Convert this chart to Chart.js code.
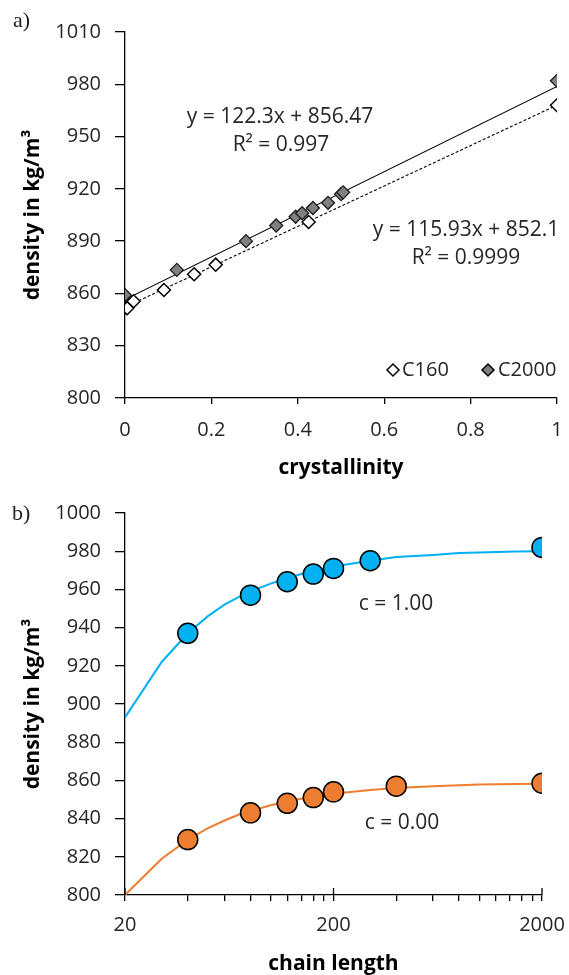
<!DOCTYPE html>
<html>
<head>
<meta charset="utf-8">
<script src="https://cdn.jsdelivr.net/npm/chart.js@4/dist/chart.umd.min.js"></script>
<style>
  body { margin: 0; background: #fff; width: 569px; height: 975px; overflow: hidden; position: relative; }
  #topWrap { position: absolute; left: 0; top: 0; width: 569px; height: 490px; }
  #botWrap { position: absolute; left: 0; top: 490px; width: 569px; height: 485px; }
  .tag { position: absolute; font-family: "Liberation Serif", "DejaVu Serif", serif; font-size: 22px; color: #222; }
</style>
</head>
<body>
<div id="topWrap"><canvas id="crystChart"></canvas></div>
<div id="botWrap"><canvas id="chainChart"></canvas></div>
<div class="tag" style="left:13px;top:7px;">a)</div>
<div class="tag" style="left:12px;top:500px;">b)</div>

<script>
// ---- data: panel a) density vs crystallinity ----
var crystC160 = [0, 0.005, 0.02, 0.09, 0.16, 0.21, 0.425, 1];
var densC160 = [852, 851.5, 855.5, 862, 871, 876.5, 901, 968];
var crystC2000 = [0, 0.12, 0.28, 0.35, 0.395, 0.41, 0.435, 0.47, 0.5, 0.505, 1];
var densC2000 = [859, 873.5, 890, 899, 904, 906, 909, 912, 917, 918, 982];
var trendX = [0, 1];
var trendC160 = [852.1, 968.03];
var trendC2000 = [856.47, 978.77];

// ---- data: panel b) density vs chain length ----
var chainCryst = [40, 80, 120, 160, 200, 300, 2000];
var densCryst = [937, 957, 964, 968, 971, 975, 982];
var chainAmorph = [40, 80, 120, 160, 200, 400, 2000];
var densAmorph = [829, 843, 848, 851, 854, 857, 858.5];
var fitChain = [20, 30, 40, 50, 60, 70, 80, 100, 120, 150, 200, 300, 400, 600, 800, 1000, 1500, 2000];
var fitCryst = [893, 922, 937, 946, 952, 956, 959, 963, 966, 969, 972, 975, 977, 978, 979, 979.3, 979.8, 980];
var fitAmorph = [800, 819, 829, 835, 839, 842, 844, 847, 849, 851, 853, 855, 856, 857, 857.5, 857.8, 858.1, 858.3];
var chainTicks = [20, 40, 60, 80, 100, 120, 140, 160, 180, 200, 400, 600, 800, 1000, 1200, 1400, 1600, 1800, 2000];
var chainLabels = [20, 200, 2000];

var FONT = '"Open Sans", "Liberation Sans", sans-serif';
var TICK_COLOR = '#262626';

function pts(xs, ys) {
  return xs.map(function(x, i) { return { x: x, y: ys[i] }; });
}

// common axis styling
function axisStyle(tickLen, extra) {
  var base = {
    border: { display: true, color: '#000', width: 1.3 },
    grid: { drawOnChartArea: false, color: '#000', lineWidth: 1.3, tickLength: tickLen }
  };
  for (var k in extra) base[k] = extra[k];
  return base;
}

// pad: space between title and the outer edge of the scale box
function titleStyle(text, pad) {
  return { display: true, text: text, color: '#000', font: { family: FONT, size: 21, weight: 'bold' },
    padding: { top: pad, bottom: pad } };
}

// keep plot edges fixed regardless of label overflow
function fixX(h) {
  return function(s) { s.height = h; s.paddingRight = 0; s.paddingLeft = 0; };
}
function fixY(s) { s.width = 125; s.paddingTop = 0; s.paddingBottom = 0; }

function diamond(ctx, x, y, r, fill) {
  ctx.beginPath();
  ctx.moveTo(x, y - r); ctx.lineTo(x + r, y); ctx.lineTo(x, y + r); ctx.lineTo(x - r, y); ctx.closePath();
  ctx.fillStyle = fill; ctx.fill();
  ctx.lineWidth = 1.5; ctx.strokeStyle = '#000'; ctx.stroke();
}

// text labels for panel a)
var crystNotes = {
  id: 'crystNotes',
  afterDraw: function(chart) {
    var ctx = chart.ctx;
    ctx.save();
    diamond(ctx, 393, 370, 6, '#fff');
    diamond(ctx, 488, 370, 6, '#808080');
    ctx.font = '21px ' + FONT;
    ctx.fillStyle = '#262626';
    ctx.textAlign = 'center';
    ctx.textBaseline = 'middle';
    ctx.fillText('y = 122.3x + 856.47', 280, 117);
    ctx.fillText('R² = 0.997', 281, 145);
    ctx.fillText('y = 115.93x + 852.1', 466, 230);
    ctx.fillText('R² = 0.9999', 466, 258);
    ctx.font = '20px ' + FONT;
    ctx.textAlign = 'left';
    ctx.fillText('C160', 402, 370);
    ctx.fillText('C2000', 498, 370);
    ctx.restore();
  }
};

// text labels and major tick marks for panel b)
var chainNotes = {
  id: 'chainNotes',
  afterDraw: function(chart) {
    var ctx = chart.ctx;
    var xs = chart.scales.x;
    ctx.save();
    ctx.strokeStyle = '#000';
    ctx.lineWidth = 1.3;
    chainLabels.forEach(function(v) {
      var px = xs.getPixelForValue(v);
      ctx.beginPath();
      ctx.moveTo(px, xs.top - 7);
      ctx.lineTo(px, xs.top);
      ctx.stroke();
    });
    ctx.font = '21px ' + FONT;
    ctx.fillStyle = '#262626';
    ctx.textAlign = 'center';
    ctx.textBaseline = 'middle';
    ctx.fillText('c = 1.00', 396, 114);
    ctx.fillText('c = 0.00', 402, 333);
    ctx.restore();
  }
};

document.addEventListener('DOMContentLoaded', function() {
  Chart.defaults.font.family = FONT;
  Chart.defaults.animation = false;

  var tickFont = { family: FONT, size: 20 };

  new Chart(document.getElementById('crystChart'), {
    type: 'scatter',
    data: {
      datasets: [
        { label: 'C160', data: pts(crystC160, densC160), pointStyle: 'rectRot', pointRadius: 6.5,
          backgroundColor: '#fff', borderColor: '#000', borderWidth: 1.5, order: 0 },
        { label: 'C2000', data: pts(crystC2000, densC2000), pointStyle: 'rectRot', pointRadius: 6.5,
          backgroundColor: '#808080', borderColor: '#1a1a1a', borderWidth: 1.3, order: 1 },
        { label: 'trend C160', data: pts(trendX, trendC160), showLine: true, pointRadius: 0,
          borderColor: '#000', borderWidth: 1.1, borderDash: [3, 2], order: 2 },
        { label: 'trend C2000', data: pts(trendX, trendC2000), showLine: true, pointRadius: 0,
          borderColor: '#000', borderWidth: 1.1, order: 3 }
      ]
    },
    options: {
      responsive: true, maintainAspectRatio: false,
      layout: { padding: { top: 32, right: 12, left: 0, bottom: 0 } },
      plugins: { legend: { display: false }, tooltip: { enabled: false } },
      scales: {
        x: axisStyle(6, { min: 0, max: 1, title: titleStyle('crystallinity', 9),
          afterFit: fixX(92),
          ticks: { stepSize: 0.2, font: tickFont, color: TICK_COLOR, padding: 14, maxRotation: 0,
            callback: function(v) { return String(Math.round(v * 10) / 10); } } }),
        y: axisStyle(10, { min: 800, max: 1010, title: titleStyle('density in kg/m³', 20),
          afterFit: fixY,
          ticks: { stepSize: 30, font: tickFont, color: TICK_COLOR, padding: 14,
            callback: function(v) { return String(v); } } })
      }
    },
    plugins: [crystNotes]
  });

  new Chart(document.getElementById('chainChart'), {
    type: 'scatter',
    data: {
      datasets: [
        { label: 'c = 1.00', data: pts(chainCryst, densCryst), pointRadius: 10, backgroundColor: '#00B0F0',
          borderColor: '#000', borderWidth: 1.5, order: 0 },
        { label: 'c = 0.00', data: pts(chainAmorph, densAmorph), pointRadius: 10, backgroundColor: '#ED7D31',
          borderColor: '#000', borderWidth: 1.5, order: 1 },
        { label: 'fit c = 1.00', data: pts(fitChain, fitCryst), showLine: true, pointRadius: 0,
          borderColor: '#00B0F0', borderWidth: 2, order: 2 },
        { label: 'fit c = 0.00', data: pts(fitChain, fitAmorph), showLine: true, pointRadius: 0,
          borderColor: '#ED7D31', borderWidth: 2, order: 3 }
      ]
    },
    options: {
      responsive: true, maintainAspectRatio: false,
      layout: { padding: { top: 23, right: 27, left: 0, bottom: 0 } },
      plugins: { legend: { display: false }, tooltip: { enabled: false } },
      scales: {
        x: axisStyle(6, { type: 'logarithmic', min: 20, max: 2000, title: titleStyle('chain length', -2),
          afterFit: fixX(80),
          afterBuildTicks: function(s) { s.ticks = chainTicks.map(function(v) { return { value: v }; }); },
          ticks: { font: tickFont, color: TICK_COLOR, padding: 12, maxRotation: 0, autoSkip: false,
            callback: function(v) { return chainLabels.indexOf(v) >= 0 ? String(v) : ''; } } }),
        y: axisStyle(10, { min: 800, max: 1000, title: titleStyle('density in kg/m³', 20),
          afterFit: fixY,
          ticks: { stepSize: 20, font: tickFont, color: TICK_COLOR, padding: 14,
            callback: function(v) { return String(v); } } })
      }
    },
    plugins: [chainNotes]
  });
});
</script>
</body>
</html>
